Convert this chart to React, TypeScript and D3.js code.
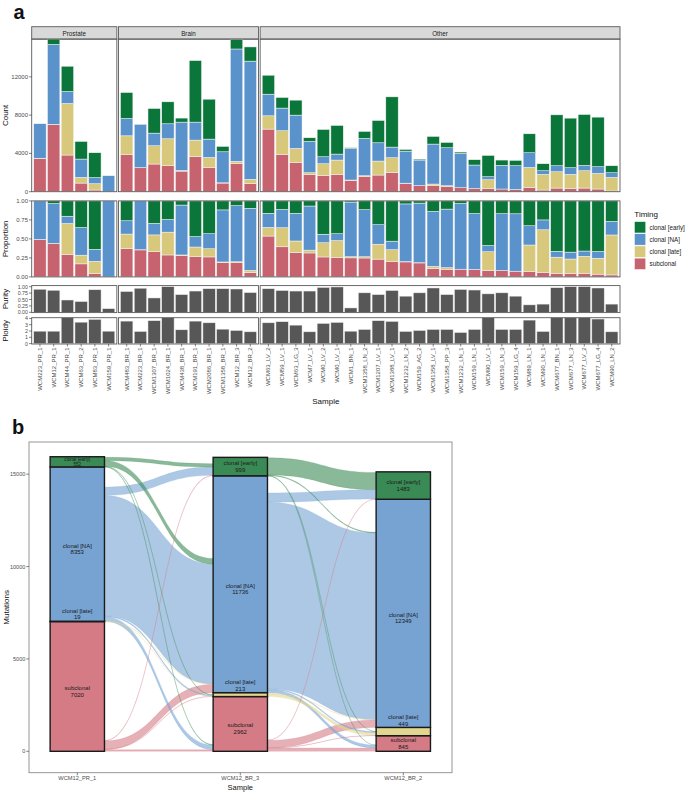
import React from "react";
import * as d3 from "d3";

// ---------------- Panel a data ----------------
const facetNames = ["Prostate", "Brain", "Other"];
const prostateSamples = ["WCM223_PR_1", "WCM12_PR_1", "WCM44_PR_1", "WCM63_PR_2", "WCM83_PR_1", "WCM159_PR_1"];
const brainSamples = ["WCM483_BR_1", "WCM223_BR_1", "WCM1307_BR_1", "WCM1024_BR_1", "WCM438_BR_1", "WCM191_BR_1", "WCM2086_BR_1", "WCM1358_BR_1", "WCM12_BR_3", "WCM12_BR_2"];
const otherSamples = ["WCM63_LV_2", "WCM59_LV_1", "WCM63_LG_3", "WCM7_LV_1", "WCM0_LV_2", "WCM0_LV_1", "WCM1_BN_1", "WCM1358_LN_2", "WCM1207_LV_1", "WCM1388_LV_1", "WCM1232_LN_2", "WCM159_AG_2", "WCM1358_LV_1", "WCM1358_PP_3", "WCM1232_LN_1", "WCM159_LN_1", "WCM90_LV_1", "WCM159_LN_3", "WCM159_LG_4", "WCM89_LN_1", "WCM90_LN_1", "WCM677_BN_1", "WCM677_LN_3", "WCM677_LV_2", "WCM677_LG_4", "WCM90_LN_2"];

const subclonal = [3480, 7020, 3830, 900, 175, 0,
  3860, 2500, 2890, 2710, 2150, 3650, 2540, 900, 2962, 845,
  6540, 3900, 3060, 1775, 1705, 1775, 1150, 1565, 1740, 2020, 870, 625, 625, 520, 420, 315, 315, 280, 245, 415, 175, 380, 350, 380, 280, 70];
const clonalLate = [20, 19, 5390, 600, 660, 0,
  1980, 20, 1910, 2820, 70, 1740, 1040, 30, 213, 449,
  1390, 2470, 1460, 210, 1215, 1530, 70, 105, 1460, 1530, 20, 10, 175, 105, 0, 10, 940, 0, 0, 2125, 1635, 1705, 1460, 1810, 1635, 1425];
const clonalNA = [3600, 8353, 1250, 1910, 640, 1670,
  1810, 4520, 1320, 1565, 5050, 1880, 1915, 3240, 11736, 12349,
  2260, 2365, 3480, 3270, 730, 625, 3300, 3895, 1910, 1110, 3350, 2670, 4175, 3965, 3580, 2460, 310, 2470, 2470, 1530, 380, 625, 695, 555, 695, 485];
const clonalEarly = [0, 552, 2640, 1840, 2595, 0,
  2710, 0, 2570, 2295, 420, 6430, 4170, 560, 999, 1483,
  1980, 1110, 1565, 380, 2850, 2990, 70, 730, 2330, 5250, 175, 100, 800, 555, 140, 555, 2225, 555, 555, 1980, 730, 5320, 5180, 5320, 5180, 730];
const purity = [0.90, 0.86, 0.48, 0.42, 0.88, 0.14,
  0.81, 0.94, 0.56, 1.0, 0.69, 0.83, 0.92, 0.92, 0.91, 0.77,
  0.92, 0.85, 0.83, 0.83, 0.97, 0.99, 0.17, 0.76, 0.69, 0.85, 0.63, 0.76, 0.95, 0.69, 0.89, 0.87, 0.72, 0.76, 0.63, 0.29, 0.32, 0.96, 1.0, 1.0, 0.95, 0.32];
const ploidy = [1.97, 1.97, 4.1, 3.4, 3.84, 1.97,
  3.57, 1.92, 3.63, 4.1, 2.19, 3.57, 3.3, 2.29, 2.08, 1.87,
  3.3, 3.47, 2.93, 1.87, 3.2, 3.36, 1.97, 2.24, 3.63, 3.52, 1.92, 2.08, 2.24, 2.24, 1.76, 2.24, 4.1, 2.24, 2.24, 3.73, 1.92, 4.1, 4.1, 4.1, 3.9, 1.87];

const timingLevels = ["clonal [early]", "clonal [NA]", "clonal [late]", "subclonal"];
const timingColors = ["#0b763a", "#5a92cc", "#d8c87b", "#c7626f"];
const alluvialColors = ["#3a8a55", "#77a3d2", "#e2d58f", "#d47b86"];

const countTicks = [0, 4000, 8000, 12000];
const propTicks = [0, 0.25, 0.5, 0.75, 1];
const purityTicks = [0, 0.25, 0.5, 0.75, 1];
const ploidyTicks = [0, 1, 2, 3, 4];

// ---------------- Panel b data ----------------
const alluvialSamples = ["WCM12_PR_1", "WCM12_BR_3", "WCM12_BR_2"];
const stratumEarly = [552, 999, 1483];
const stratumNA = [8353, 11736, 12349];
const stratumLate = [19, 213, 449];
const stratumSubclonal = [7020, 2962, 845];
const mutationTicks = [0, 5000, 10000, 15000];

const flowsPR1toBR3 = [
  { from: "clonal [early]", to: "clonal [early]", n: 180 },
  { from: "clonal [early]", to: "clonal [NA]", n: 300 },
  { from: "clonal [early]", to: "clonal [late]", n: 15 },
  { from: "clonal [early]", to: "subclonal", n: 25 },
  { from: "clonal [NA]", to: "clonal [early]", n: 450 },
  { from: "clonal [NA]", to: "clonal [NA]", n: 6500 },
  { from: "clonal [NA]", to: "clonal [late]", n: 60 },
  { from: "clonal [NA]", to: "subclonal", n: 250 },
  { from: "clonal [late]", to: "clonal [NA]", n: 10 },
  { from: "clonal [late]", to: "clonal [late]", n: 5 },
  { from: "subclonal", to: "clonal [early]", n: 25 },
  { from: "subclonal", to: "clonal [NA]", n: 450 },
  { from: "subclonal", to: "clonal [late]", n: 20 },
  { from: "subclonal", to: "subclonal", n: 90 },
];
const flowsBR3toBR2 = [
  { from: "clonal [early]", to: "clonal [early]", n: 930 },
  { from: "clonal [early]", to: "clonal [NA]", n: 40 },
  { from: "clonal [early]", to: "clonal [late]", n: 5 },
  { from: "clonal [early]", to: "subclonal", n: 5 },
  { from: "clonal [NA]", to: "clonal [early]", n: 500 },
  { from: "clonal [NA]", to: "clonal [NA]", n: 10100 },
  { from: "clonal [NA]", to: "clonal [late]", n: 60 },
  { from: "clonal [NA]", to: "subclonal", n: 150 },
  { from: "clonal [late]", to: "clonal [NA]", n: 20 },
  { from: "clonal [late]", to: "clonal [late]", n: 150 },
  { from: "subclonal", to: "clonal [early]", n: 15 },
  { from: "subclonal", to: "clonal [NA]", n: 400 },
  { from: "subclonal", to: "clonal [late]", n: 10 },
  { from: "subclonal", to: "subclonal", n: 180 },
];

const FONT = "'Liberation Sans', Arial, Helvetica, sans-serif";
const TICK_COL = "#4d4d4d";
const BORDER = "#5a5a5a";

function flowPath(x0: number, a0: number, a1: number, x1: number, b0: number, b1: number) {
  const xm = (x0 + x1) / 2;
  return `M${x0},${a0}C${xm},${a0} ${xm},${b0} ${x1},${b0}L${x1},${b1}C${xm},${b1} ${xm},${a1} ${x0},${a1}Z`;
}

export default function App() {
  // ---------- panel a layout ----------
  const facets = [prostateSamples, brainSamples, otherSamples];
  const allSamples = facets.flat();
  const left = 31.7, right = 620, gap = 1.6;
  const totalUnits = d3.sum(facets, (f) => f.length + 0.2);
  const unit = (right - left - gap * (facets.length - 1)) / totalUnits;
  let cur = left;
  const panels = facets.map((f, i) => {
    const w = (f.length + 0.2) * unit;
    const x0 = cur;
    cur += w + gap;
    const scale = d3.scaleBand<string>().domain(f).range([x0, x0 + w]).paddingInner(0.1).paddingOuter(0.15);
    return { name: facetNames[i], x0, x1: x0 + w, scale, samples: f };
  });
  const bandOf = (s: string) => panels.find((p) => p.samples.includes(s))!.scale;

  const rows = allSamples.map((s, i) => ({
    sample: s,
    subclonal: subclonal[i], late: clonalLate[i], na: clonalNA[i], early: clonalEarly[i],
    purity: purity[i], ploidy: ploidy[i],
  }));
  const keys = ["subclonal", "late", "na", "early"];
  const keyColors = [timingColors[3], timingColors[2], timingColors[1], timingColors[0]];
  const stackCount = d3.stack<any>().keys(keys)(rows);
  const stackProp = d3.stack<any>().keys(keys).offset(d3.stackOffsetExpand)(rows);

  const countPanel = { top: 39.1, bottom: 191.7 };
  const propPanel = { top: 200.9, bottom: 276.9 };
  const purPanel = { top: 285.6, bottom: 312.6 };
  const ploPanel = { top: 317.7, bottom: 344.0 };
  const yCount = d3.scaleLinear().domain([0, 15944]).range([countPanel.bottom, countPanel.top]);
  const yProp = d3.scaleLinear().domain([0, 1]).range([propPanel.bottom, propPanel.top]);
  const yPur = d3.scaleLinear().domain([0, 1]).range([312.3, 286.7]);
  const yPlo = d3.scaleLinear().domain([0, 4]).range([343.6, 318.4]);

  const panelRects = (pTop: number, pBot: number, key: string) =>
    panels.map((p) => (
      <rect key={key + p.name} x={p.x0} y={pTop} width={p.x1 - p.x0} height={pBot - pTop} fill="none" stroke={BORDER} strokeWidth={0.9} />
    ));

  const yAxis = (ticks: number[], scale: any, fmt: (v: number) => string, key: string, fs = 6) => (
    <g key={key}>
      {ticks.map((t) => (
        <g key={key + t}>
          <line x1={29} x2={left} y1={scale(t)} y2={scale(t)} stroke="#333" strokeWidth={0.6} />
          <text x={28} y={scale(t)} textAnchor="end" dominantBaseline="central" fontSize={fs} fill={TICK_COL} fontFamily={FONT}>{fmt(t)}</text>
        </g>
      ))}
    </g>
  );

  const stackedBars = (stack: any[], scale: any, key: string) =>
    stack.map((series, si) => (
      <g key={key + si}>
        {series.map((d: any) => {
          const b = bandOf(d.data.sample);
          const y0 = scale(d[0]);
          const y1 = scale(d[1]);
          const h = y0 - y1;
          if (!(h > 0)) return null;
          return <rect key={d.data.sample} x={b(d.data.sample)} y={y1} width={b.bandwidth()} height={h} fill={keyColors[si]} stroke="#f4f4f4" strokeWidth={0.5} />;
        })}
      </g>
    ));

  const simpleBars = (field: "purity" | "ploidy", scale: any, top: number, key: string) =>
    rows.map((r) => {
      const b = bandOf(r.sample);
      const y1 = Math.max(top, scale(r[field]));
      return <rect key={key + r.sample} x={b(r.sample)} y={y1} width={b.bandwidth()} height={scale(0) - y1} fill="#575757" stroke="#e8e8e8" strokeWidth={0.5} />;
    });

  // ---------- panel b layout ----------
  const xB = d3.scalePoint<string>().domain(alluvialSamples).range([77.3, 403.3]);
  const yB = d3.scaleLinear().domain([0, 15000]).range([751.3, 751.3 - 15000 * 0.018475]);
  const sw = (403.3 - 77.3) / 2 / 3;
  const totals = [stratumEarly, stratumNA, stratumLate, stratumSubclonal];
  const strata: { t: number; k: number; bot: number; top: number; n: number }[] = [];
  const stratTop: number[][] = timingLevels.map(() => []);
  alluvialSamples.forEach((_, k) => {
    let base = 0;
    for (let t = 3; t >= 0; t--) {
      const n = totals[t][k];
      strata.push({ t, k, bot: base, top: base + n, n });
      stratTop[t][k] = base + n;
      base += n;
    }
  });

  const flowSets = [flowsPR1toBR3, flowsBR3toBR2];
  const flowShapes: { d: string; color: string; n: number; key: string }[] = [];
  flowSets.forEach((set, s) => {
    const items = set.map((f) => ({ ...f, fi: timingLevels.indexOf(f.from), ti: timingLevels.indexOf(f.to), a0: 0, a1: 0, b0: 0, b1: 0 }));
    for (let t = 0; t < 4; t++) {
      const outs = items.filter((f) => f.fi === t).sort((a, b) => a.ti - b.ti);
      const sumOut = d3.sum(outs, (f) => f.n);
      let c = stratTop[t][s] - (totals[t][s] - sumOut);
      outs.forEach((f) => { f.a0 = c; f.a1 = c - f.n; c -= f.n; });
      const ins = items.filter((f) => f.ti === t).sort((a, b) => a.fi - b.fi);
      const sumIn = d3.sum(ins, (f) => f.n);
      let c2 = stratTop[t][s + 1] - (totals[t][s + 1] - sumIn);
      ins.forEach((f) => { f.b0 = c2; f.b1 = c2 - f.n; c2 -= f.n; });
    }
    const x0 = xB(alluvialSamples[s])! + sw / 2;
    const x1 = xB(alluvialSamples[s + 1])! - sw / 2;
    items.forEach((f, i) => {
      flowShapes.push({
        d: flowPath(x0, yB(f.a0), yB(f.a1), x1, yB(f.b0), yB(f.b1)),
        color: alluvialColors[f.fi],
        n: f.n,
        key: `f${s}-${i}`,
      });
    });
  });
  flowShapes.sort((a, b) => b.n - a.n);

  const boxB = { x0: 29, x1: 452, y0: 442, y1: 772.7 };

  return (
    <svg width={685} height={792} style={{ position: "absolute", left: 0, top: 0 }} fontFamily={FONT}>
      <rect x={0} y={0} width={685} height={792} fill="#fff" />
      {/* panel labels */}
      <text x={13.5} y={18.5} fontSize={20} fontWeight="bold" fill="#111">a</text>
      <text x={12} y={434} fontSize={20} fontWeight="bold" fill="#111">b</text>

      {/* strips */}
      {panels.map((p) => (
        <g key={"strip" + p.name}>
          <rect x={p.x0} y={26.7} width={p.x1 - p.x0} height={countPanel.top - 26.7} fill="#d9d9d9" stroke={BORDER} strokeWidth={0.9} />
          <text x={(p.x0 + p.x1) / 2} y={33} textAnchor="middle" dominantBaseline="central" fontSize={6.3} fill="#1a1a1a">{p.name}</text>
        </g>
      ))}

      {/* bars */}
      {stackedBars(stackCount, yCount, "c")}
      {stackedBars(stackProp, yProp, "p")}
      {simpleBars("purity", yPur, purPanel.top, "pu")}
      {simpleBars("ploidy", yPlo, ploPanel.top, "pl")}

      {panelRects(countPanel.top, countPanel.bottom, "cb")}
      {panelRects(propPanel.top, propPanel.bottom, "pb")}
      {panelRects(purPanel.top, purPanel.bottom, "ub")}
      {panelRects(ploPanel.top, ploPanel.bottom, "lb")}

      {/* y axes */}
      {yAxis(countTicks, yCount, (v) => String(v), "yc")}
      {yAxis(propTicks, yProp, (v) => v.toFixed(2), "yp")}
      {yAxis(purityTicks, yPur, (v) => v.toFixed(2), "yu", 5.3)}
      {yAxis(ploidyTicks, yPlo, (v) => String(v), "yl", 5.3)}

      {/* y titles */}
      <text transform={`translate(7.5,${(countPanel.top + countPanel.bottom) / 2}) rotate(-90)`} textAnchor="middle" fontSize={8} fill="#111">Count</text>
      <text transform={`translate(7.5,${(propPanel.top + propPanel.bottom) / 2}) rotate(-90)`} textAnchor="middle" fontSize={8} fill="#111">Proportion</text>
      <text transform={`translate(7.5,${(purPanel.top + purPanel.bottom) / 2}) rotate(-90)`} textAnchor="middle" fontSize={8} fill="#111">Purity</text>
      <text transform={`translate(7.5,${(ploPanel.top + ploPanel.bottom) / 2}) rotate(-90)`} textAnchor="middle" fontSize={8} fill="#111">Ploidy</text>

      {/* x axis labels */}
      {allSamples.map((s) => {
        const b = bandOf(s);
        const xc = b(s)! + b.bandwidth() / 2;
        return (
          <g key={"xl" + s}>
            <line x1={xc} x2={xc} y1={ploPanel.bottom} y2={ploPanel.bottom + 2.5} stroke="#333" strokeWidth={0.6} />
            <text transform={`translate(${xc},${ploPanel.bottom + 3.5}) rotate(-90)`} textAnchor="end" dominantBaseline="central" fontSize={6} fill={TICK_COL}>{s}</text>
          </g>
        );
      })}
      <text x={(left + right) / 2} y={404} textAnchor="middle" fontSize={8} fill="#111">Sample</text>

      {/* legend */}
      <text x={634.3} y={216.5} fontSize={8} fill="#111">Timing</text>
      {timingLevels.map((t, i) => (
        <g key={"lg" + t}>
          <rect x={634.3} y={221.5 + i * 12.2} width={11.5} height={11.5} fill={timingColors[i]} stroke="#fff" strokeWidth={0.6} />
          <text x={649.5} y={227.25 + i * 12.2} dominantBaseline="central" fontSize={6.3} fill="#1a1a1a">{t}</text>
        </g>
      ))}

      {/* ---------- panel b ---------- */}
      <rect x={boxB.x0} y={boxB.y0} width={boxB.x1 - boxB.x0} height={boxB.y1 - boxB.y0} fill="#fff" stroke="#8a8a8a" strokeWidth={0.9} />
      {flowShapes.map((f) => (
        <path key={f.key} d={f.d} fill={f.color} fillOpacity={0.6} stroke={f.color} strokeOpacity={0.55} strokeWidth={0.35} />
      ))}
      {strata.map((s) => {
        const x = xB(alluvialSamples[s.k])! - sw / 2;
        const yTop = yB(s.top);
        const yBot = yB(s.bot);
        return (
          <rect key={`st${s.k}-${s.t}`} x={x} y={yTop} width={sw} height={yBot - yTop} fill={alluvialColors[s.t]} stroke="#1a1a1a" strokeWidth={1.4} />
        );
      })}
      {strata.map((s) => {
        const xc = xB(alluvialSamples[s.k])!;
        const yTop = yB(s.top);
        const yBot = yB(s.bot);
        const h = yBot - yTop;
        let fs = Math.min(6, h / 2.2);
        let l1: number, l2: number;
        if (s.t === 2) {
          fs = 6;
          l2 = yTop - 0.8 - fs * 0.5;
          l1 = l2 - fs * 1.1;
        } else if (h > 40) {
          l1 = (yTop + yBot) / 2 + 1.5;
          l2 = l1 + fs * 1.1;
        } else {
          l1 = (yTop + yBot) / 2 - fs * 0.55;
          l2 = (yTop + yBot) / 2 + fs * 0.55;
        }
        return (
          <g key={`sl${s.k}-${s.t}`}>
            <text x={xc} y={l1} textAnchor="middle" dominantBaseline="central" fontSize={fs} fill="#1a1a1a">{timingLevels[s.t]}</text>
            <text x={xc} y={l2} textAnchor="middle" dominantBaseline="central" fontSize={fs} fill="#1a1a1a">{s.n}</text>
          </g>
        );
      })}
      {mutationTicks.map((t) => (
        <g key={"mt" + t}>
          <line x1={26.3} x2={boxB.x0} y1={yB(t)} y2={yB(t)} stroke="#333" strokeWidth={0.6} />
          <text x={25.3} y={yB(t)} textAnchor="end" dominantBaseline="central" fontSize={5.5} fill={TICK_COL}>{t}</text>
        </g>
      ))}
      {alluvialSamples.map((s) => (
        <g key={"bx" + s}>
          <line x1={xB(s)} x2={xB(s)} y1={boxB.y1} y2={boxB.y1 + 2.7} stroke="#333" strokeWidth={0.6} />
          <text x={xB(s)} y={778.3} textAnchor="middle" dominantBaseline="central" fontSize={5.7} fill={TICK_COL}>{s}</text>
        </g>
      ))}
      <text x={xB(alluvialSamples[1])} y={789.6} textAnchor="middle" fontSize={7.5} fill="#111">Sample</text>
      <text transform={`translate(8.5,${(boxB.y0 + boxB.y1) / 2}) rotate(-90)`} textAnchor="middle" fontSize={8} fill="#111">Mutations</text>
    </svg>
  );
}
